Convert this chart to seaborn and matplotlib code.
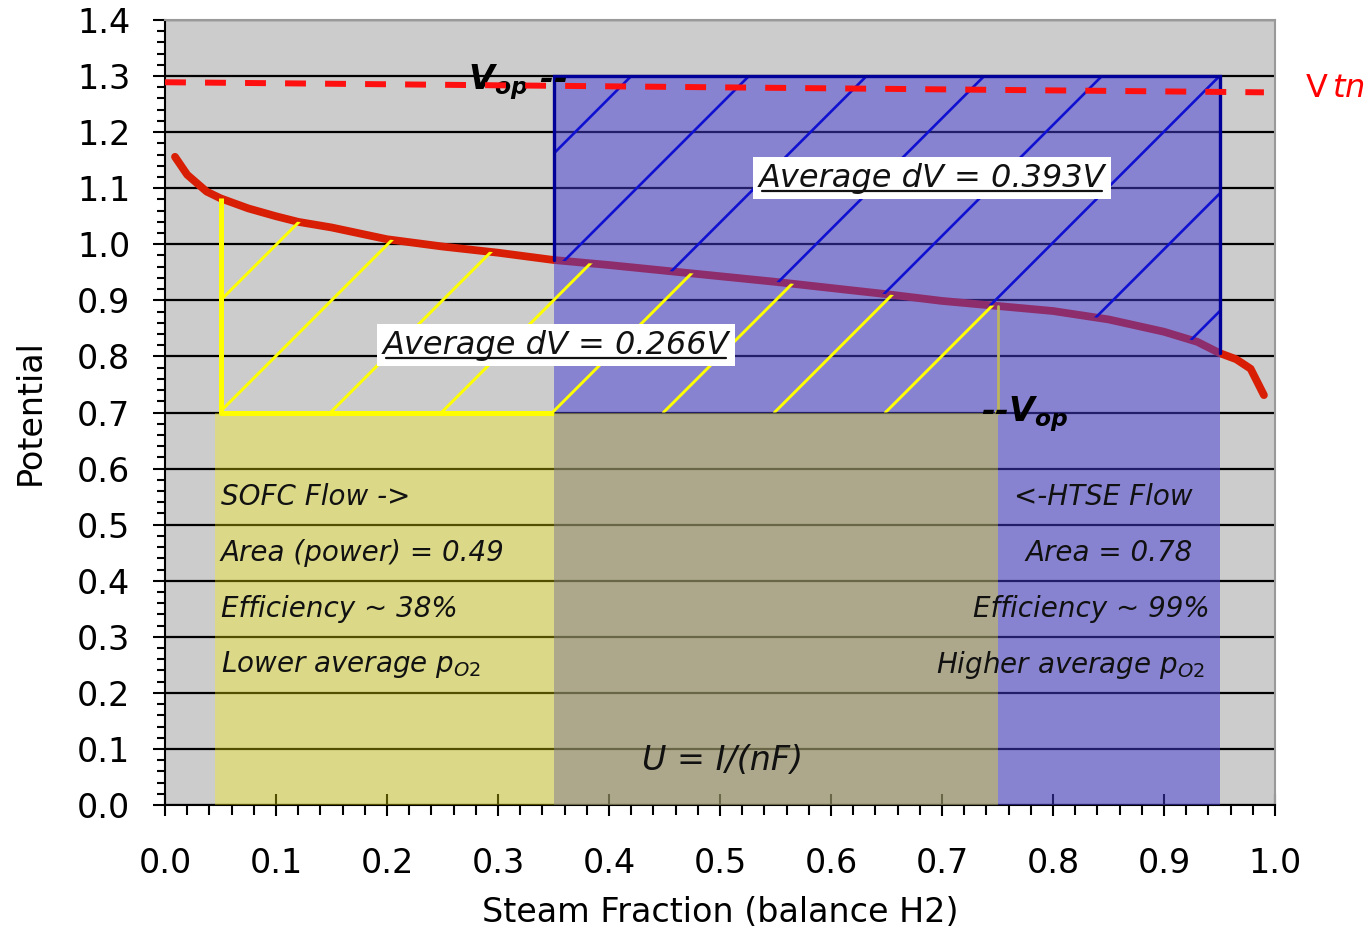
import numpy as np
import matplotlib
matplotlib.use("Agg")
import matplotlib.pyplot as plt
import seaborn as sns
import pandas as pd

# ---------------- data ----------------
curve_x = [0.009, 0.02, 0.0375, 0.05, 0.075, 0.10, 0.12, 0.15, 0.20, 0.25, 0.30, 0.35,
           0.40, 0.45, 0.50, 0.55, 0.60, 0.65, 0.70, 0.75, 0.80, 0.85, 0.90, 0.93,
           0.95, 0.965, 0.978, 0.99]
curve_y = [1.156, 1.124, 1.094, 1.082, 1.064, 1.050, 1.040, 1.030, 1.009, 0.996, 0.985, 0.972,
           0.963, 0.953, 0.943, 0.933, 0.922, 0.911, 0.899, 0.890, 0.881, 0.866, 0.844, 0.826,
           0.806, 0.795, 0.778, 0.731]
vtn_x = [0.0, 0.99]
vtn_y = [1.289, 1.271]

x_ticks = [0.0, 0.1, 0.2, 0.3, 0.4, 0.5, 0.6, 0.7, 0.8, 0.9, 1.0]
y_ticks = [0.0, 0.1, 0.2, 0.3, 0.4, 0.5, 0.6, 0.7, 0.8, 0.9, 1.0, 1.1, 1.2, 1.3, 1.4]

sofc_span = [0.045, 0.75]      # yellow band (SOFC operating range)
sofc_line_x = [0.05, 0.75]     # yellow outlined/hatched region
sofc_vop = 0.70
htse_span = [0.35, 0.95]       # blue band (HTSE operating range)
htse_vop = 1.30

left_notes = ["SOFC Flow ->", "Area (power) = 0.49", "Efficiency ~ 38%",
              r"Lower average $\mathit{p_{O2}}$"]
right_notes = ["<-HTSE Flow", "Area = 0.78", "Efficiency ~ 99%",
               r"Higher average $\mathit{p_{O2}}$"]
note_levels = [0.55, 0.45, 0.35, 0.25]
right_note_x = [0.926, 0.926, 0.941, 0.937]
dv_labels = ["Average dV = 0.393V", "Average dV = 0.266V"]
dv_pos = [(0.691, 1.118), (0.352, 0.820)]

# ---------------- style ----------------
sns.set_style("white")
plt.rcParams["font.family"] = ["DejaVu Sans"]
plt.rcParams["text.color"] = "black"
plt.rcParams["axes.labelcolor"] = "black"
plt.rcParams["xtick.color"] = "black"
plt.rcParams["ytick.color"] = "black"
plt.rcParams["mathtext.fontset"] = "custom"
plt.rcParams["mathtext.rm"] = "DejaVu Sans"
plt.rcParams["mathtext.it"] = "DejaVu Sans:italic"
plt.rcParams["mathtext.bf"] = "DejaVu Sans:italic:bold"

fig = plt.figure(figsize=(13.66, 9.30), dpi=100)
ax = fig.add_axes([0.1208, 0.1344, 0.8126, 0.8441])
ax.set_facecolor("#CCCCCC")
ax.set_xlim(0, 1.0)
ax.set_ylim(0, 1.4)
ax.set_axisbelow(True)

# grid / ticks
ax.set_yticks(y_ticks)
ax.set_xticks(x_ticks)
ax.set_yticks(np.arange(0, 1.4001, 0.02), minor=True)
ax.set_xticks(np.arange(0, 1.0001, 0.02), minor=True)
ax.yaxis.grid(True, which="major", color="black", lw=1.6)
ax.xaxis.grid(False)
ax.set_yticklabels([f"{v:.1f}" for v in y_ticks])
ax.set_xticklabels([f"{v:.1f}" for v in x_ticks])

ax.tick_params(axis="y", which="major", direction="out", length=9, width=1.5,
               labelsize=24, pad=16, left=True, colors="black")
ax.tick_params(axis="y", which="minor", direction="out", length=6, width=1.5, left=True,
               colors="black")
ax.tick_params(axis="x", which="major", direction="inout", length=16, width=1.5,
               labelsize=24, pad=22, bottom=True, colors="black")
ax.tick_params(axis="x", which="minor", direction="out", length=7, width=1.5, bottom=True,
               colors="black")

for s in ["left", "bottom"]:
    ax.spines[s].set_color("black")
    ax.spines[s].set_linewidth(1.5)
for s in ["top", "right"]:
    ax.spines[s].set_color("#999999")
    ax.spines[s].set_linewidth(1.5)
    ax.spines[s].set_visible(True)

# main curve
df = pd.DataFrame({"x": curve_x, "y": curve_y})
sns.lineplot(data=df, x="x", y="y", ax=ax, color="#D81E05", lw=5.6, zorder=2,
             solid_capstyle="round")

c_interp = lambda v: float(np.interp(v, curve_x, curve_y))

# yellow outline (visible part over grey)
ax.plot([sofc_line_x[0], sofc_line_x[0], htse_span[0]],
        [c_interp(sofc_line_x[0]), sofc_vop, sofc_vop],
        color="#FFFF00", lw=3.6, zorder=2.5, solid_capstyle="butt")

# translucent bands
ax.fill_between(htse_span, 0, htse_vop, color="#443CD4", alpha=0.5, lw=0, zorder=3)
ax.fill_between(sofc_span, 0, sofc_vop, color="#FCF600", alpha=0.33, lw=0, zorder=4)

# khaki edge at right of SOFC region
ax.plot([sofc_line_x[1], sofc_line_x[1]], [sofc_vop, c_interp(sofc_line_x[1])],
        color="#BDB45E", lw=2, zorder=5)

# hatch lines (45 degrees in display space)
fig.canvas.draw()
p0 = ax.transData.transform((0, 0))
p1 = ax.transData.transform((1, 1))
k = (p1[0] - p0[0]) / (p1[1] - p0[1])   # y-data per x-data for 45 deg


def hatch(xs, lower, upper, anchors, base_y, top_y, anchor, color, lw, z):
    poly = ax.fill_between(xs, lower, upper, facecolor="none", edgecolor="none", lw=0)
    path = poly.get_paths()[0]
    for c in anchors:
        if anchor == "base":
            xa, xb = c, c + (top_y - base_y) / k
        else:
            xa, xb = c - (top_y - base_y) / k, c
        ln, = ax.plot([xa, xb], [base_y, top_y], color=color, lw=lw, zorder=z)
        ln.set_clip_path(path, ax.transData)


xs_y = np.linspace(sofc_line_x[0], sofc_line_x[1], 300)
hatch(xs_y, sofc_vop, np.interp(xs_y, curve_x, curve_y),
      np.arange(-0.051, 0.75, 0.1), sofc_vop, 1.25, "base", "#FFFF00", 2.1, 5.5)

xs_b = np.linspace(htse_span[0], htse_span[1], 300)
hatch(xs_b, np.interp(xs_b, curve_x, curve_y), htse_vop,
      np.arange(0.42, 1.25, 0.106), 0.70, htse_vop, "top", "#1010D0", 1.9, 5.5)

# blue outline
ax.plot([htse_span[0], htse_span[0], htse_span[1], htse_span[1]],
        [c_interp(htse_span[0]), htse_vop, htse_vop, c_interp(htse_span[1])],
        color="#000099", lw=2.4, zorder=6, solid_joinstyle="miter")

# Vtn dashed line
ax.plot(vtn_x, vtn_y, color="#FF1010", lw=4.3, dashes=(3.5, 3.2), zorder=12,
        dash_capstyle="butt", clip_on=False)
ax.text(1.027, 1.262, r"V$\,\mathit{tn}$", color="#FF0000", fontsize=23,
        ha="left", va="baseline", clip_on=False)

# Vop markers
ax.text(0.273, 1.276, r"$\mathbf{V_{op}}$ --", fontsize=24, fontweight="bold",
        style="italic", ha="left", va="baseline", zorder=11, color="black")
ax.text(0.735, 0.684, r"--$\mathbf{V_{op}}$", fontsize=24, fontweight="bold",
        style="italic", ha="left", va="baseline", zorder=11, color="black")

# notes
for txt, yv in zip(left_notes, note_levels):
    ax.text(0.05, yv, txt, fontsize=20, style="italic", ha="left", va="center",
            color="#111111", zorder=10)
for txt, yv, xv in zip(right_notes, note_levels, right_note_x):
    ax.text(xv, yv, txt, fontsize=20, style="italic", ha="right", va="center",
            color="#111111", zorder=10)
ax.text(0.502, 0.08, "U = I/(nF)", fontsize=24, style="italic", ha="center",
        va="center", color="#111111", zorder=10)

# average dV boxes
dv_texts = []
for txt, (xv, yv) in zip(dv_labels, dv_pos):
    t = ax.text(xv, yv, txt, fontsize=23, style="italic", ha="center", va="center",
                color="#111111", zorder=10,
                bbox=dict(boxstyle="square,pad=0.18", facecolor="white", edgecolor="none"))
    dv_texts.append(t)

ax.set_xlabel("Steam Fraction (balance H2)", fontsize=24, labelpad=12, color="black")
ax.set_ylabel("Potential", fontsize=24, labelpad=22, color="black")

fig.canvas.draw()
r = fig.canvas.get_renderer()
inv = ax.transData.inverted()
for t in dv_texts:
    bb = t.get_window_extent(renderer=r)
    (x0, y0), (x1, y1) = inv.transform([(bb.x0, bb.y0), (bb.x1, bb.y1)])
    yu = y0 + 0.10 * (y1 - y0)
    ax.plot([x0 + 0.003, x1 - 0.003], [yu, yu], color="#111111", lw=1.6, zorder=11)

fig.savefig("out.png", dpi=100)
